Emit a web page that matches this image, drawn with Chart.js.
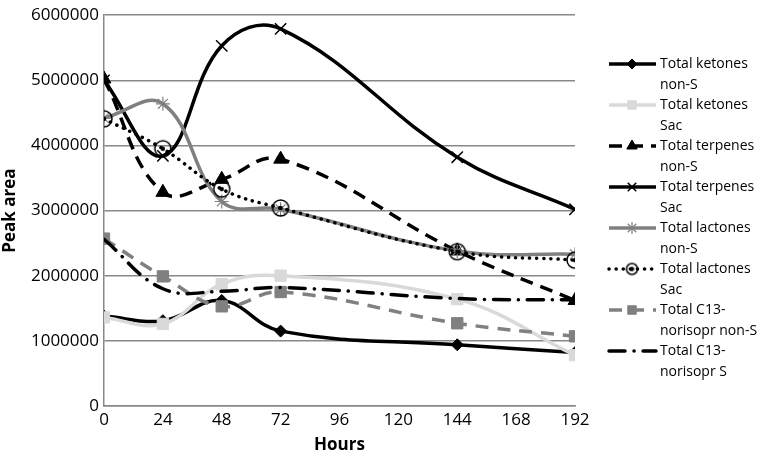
<!DOCTYPE html>
<html>
<head>
<meta charset="utf-8">
<script src="https://cdn.jsdelivr.net/npm/chart.js@4.4.1/dist/chart.umd.min.js"></script>
<style>
  html, body { margin: 0; padding: 0; background: #fff; }
  #wrap { width: 767px; height: 459px; position: relative; }
</style>
</head>
<body>
<div id="wrap"><canvas id="chart"></canvas></div>
<script>
// values
const hours = [0, 24, 48, 72, 144, 192];
const xTicks = [0, 24, 48, 72, 96, 120, 144, 168, 192];
const ketonesNonS   = [1380000, 1310000, 1620000, 1150000, 940000, 820000];
const ketonesSac    = [1360000, 1260000, 1870000, 2000000, 1640000, 780000];
const terpenesNonS  = [5020000, 3280000, 3480000, 3790000, 2380000, 1620000];
const terpenesSac   = [5000000, 3840000, 5530000, 5790000, 3820000, 3020000];
const lactonesNonS  = [4420000, 4640000, 3140000, 3020000, 2380000, 2330000];
const lactonesSac   = [4410000, 3950000, 3330000, 3040000, 2370000, 2240000];
const c13NonS       = [2570000, 1990000, 1530000, 1750000, 1270000, 1070000];
const c13S          = [2560000, 1800000, 1760000, 1820000, 1650000, 1630000];

const labels = [
    ['Total ketones', 'non-S'],
    ['Total ketones', 'Sac'],
    ['Total terpenes', 'non-S'],
    ['Total terpenes', 'Sac'],
    ['Total lactones', 'non-S'],
    ['Total lactones', 'Sac'],
    ['Total C13-', 'norisopr non-S'],
    ['Total C13-', 'norisopr S']
];

const FONT = "'Open Sans', sans-serif";

// circle with a dot in the middle
const makeRing = (size) => {
    const c = document.createElement('canvas');
    c.width = size; c.height = size;
    const g = c.getContext('2d');
    const m = size / 2;
    g.strokeStyle = '#000';
    g.lineWidth = 1.5;
    g.beginPath(); g.arc(m, m, m - 2, 0, Math.PI * 2); g.stroke();
    g.fillStyle = '#000';
    g.beginPath(); g.arc(m, m, 2.2, 0, Math.PI * 2); g.fill();
    return c;
};
const ringDot = makeRing(20);
const ringSmall = makeRing(15);

const pts = arr => hours.map((h, i) => ({ x: h, y: arr[i] }));

const styles = [
    { color: '#000000', dash: [], point: 'rectRot', r: 6, lr: 5, pbw: 1 },
    { color: '#d9d9d9', dash: [], point: 'rect', r: 8, lr: 6, pbw: 1 },
    { color: '#000000', dash: [13, 8], point: 'triangle', r: 8, lr: 6, pbw: 1 },
    { color: '#000000', dash: [], point: 'crossRot', r: 8, lr: 6, pbw: 1.5 },
    { color: '#808080', dash: [], point: 'star', r: 7, lr: 6, pbw: 1.2 },
    { color: '#000000', dash: [0.1, 7], point: ringDot, legendPoint: ringSmall, r: 8, lr: 6, pbw: 1, cap: 'round' },
    { color: '#808080', dash: [13, 9], point: 'rect', r: 8, lr: 6, pbw: 1 },
    { color: '#000000', dash: [16, 9, 0.1, 9], point: false, r: 0, lr: 0, pbw: 1, cap: 'round' }
];

const series = [ketonesNonS, ketonesSac, terpenesNonS, terpenesSac, lactonesNonS, lactonesSac, c13NonS, c13S];

const datasets = series.map((s, i) => {
    const st = styles[i];
    return {
        label: labels[i].join(' '),
        data: pts(s),
        borderColor: st.color,
        backgroundColor: st.color,
        borderWidth: 3.5,
        borderDash: st.dash,
        borderCapStyle: st.cap || 'butt',
        tension: 0.4,
        pointStyle: st.point,
        pointRadius: st.r,
        pointBorderWidth: st.pbw,
        pointBorderColor: st.color,
        pointBackgroundColor: st.color,
        order: series.length - i
    };
});

// legend on the right, two text lines per entry
const sideLegend = {
    id: 'sideLegend',
    afterDraw(chart) {
        const ctx = chart.ctx;
        ctx.save();
        chart.data.datasets.forEach((ds, i) => {
            const st = styles[i];
            const y = 64 + i * 41;
            ctx.strokeStyle = ds.borderColor;
            ctx.lineWidth = ds.borderWidth;
            ctx.setLineDash(ds.borderDash);
            ctx.lineCap = ds.borderCapStyle;
            ctx.beginPath();
            ctx.moveTo(609, y);
            ctx.lineTo(656, y);
            ctx.stroke();
            ctx.setLineDash([]);
            if (ds.pointStyle) {
                ctx.fillStyle = ds.pointBackgroundColor;
                ctx.strokeStyle = ds.pointBorderColor;
                ctx.lineWidth = ds.pointBorderWidth;
                Chart.helpers.drawPoint(ctx, {
                    pointStyle: st.legendPoint || ds.pointStyle, radius: st.lr,
                    borderWidth: ds.pointBorderWidth, rotation: 0
                }, 632, y);
            }
            ctx.fillStyle = '#000';
            ctx.font = '14px ' + FONT;
            ctx.textBaseline = 'middle';
            ctx.textAlign = 'left';
            ctx.fillText(labels[i][0], 660, y);
            ctx.fillText(labels[i][1], 660, y + 21);
        });
        ctx.restore();
    }
};

new Chart(document.getElementById('chart'), {
    type: 'line',
    data: { datasets },
    options: {
        responsive: true,
        maintainAspectRatio: false,
        animation: false,
        layout: { padding: { top: 2, right: 192, left: 0, bottom: 0 } },
        plugins: {
            legend: { display: false },
            tooltip: { enabled: false }
        },
        scales: {
            x: {
                type: 'linear',
                min: 0,
                max: 192,
                afterBuildTicks: axis => { axis.ticks = xTicks.map(v => ({ value: v })); },
                grid: { display: false, drawTicks: false },
                border: { display: true, color: '#888', width: 1.5 },
                ticks: { color: '#000', font: { family: FONT, size: 17 }, padding: 4, maxRotation: 0 },
                title: { display: true, text: 'Hours', color: '#000', font: { family: FONT, size: 17, weight: 'bold' }, padding: { top: 0 } },
                afterFit: s => { s.height = 53; }
            },
            y: {
                min: 0,
                max: 6000000,
                ticks: {
                    stepSize: 1000000, color: '#000', font: { family: FONT, size: 17 }, padding: 5,
                    callback: v => String(v)
                },
                grid: { color: '#888', lineWidth: 1.5, drawTicks: false },
                border: { display: true, color: '#888', width: 1.5 },
                title: { display: true, text: 'Peak area', color: '#000', font: { family: FONT, size: 17, weight: 'bold' }, padding: 0 },
                afterFit: s => { s.width = 104; }
            }
        }
    },
    plugins: [sideLegend]
});
</script>
</body>
</html>
